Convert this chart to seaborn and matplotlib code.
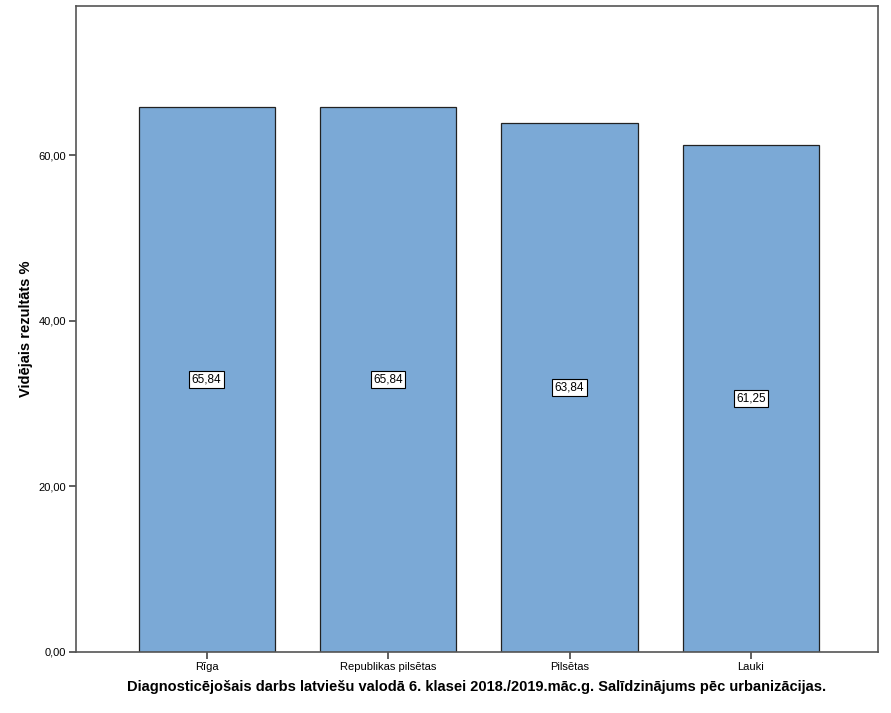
import matplotlib
matplotlib.use('Agg')
import matplotlib.pyplot as plt
import seaborn as sns
import pandas as pd
from matplotlib.ticker import FuncFormatter

# dati no attēla
categories = ['Rīga', 'Republikas pilsētas', 'Pilsētas', 'Lauki']
values = [65.84, 65.84, 63.84, 61.25]
yticks = [0, 20, 40, 60]

df = pd.DataFrame({'grupa': categories, 'rezultats': values})

sns.set_style('white')
plt.rcParams['font.family'] = ['Liberation Sans', 'DejaVu Sans']
plt.rcParams['text.color'] = 'black'
plt.rcParams['axes.labelcolor'] = 'black'
plt.rcParams['xtick.color'] = 'black'
plt.rcParams['ytick.color'] = 'black'

fig = plt.figure(figsize=(8.91, 7.13), dpi=100)
ax = fig.add_axes([0.0853, 0.0856, 0.9001, 0.906])

sns.barplot(data=df, x='grupa', y='rezultats', color='#7BA9D6', width=0.75,
            edgecolor='#222222', linewidth=0.9, saturation=1, ax=ax)

# vērtību etiķetes bāra vidū
for i, v in enumerate(values):
    ax.text(i, v / 2, f'{v:.2f}'.replace('.', ','), ha='center', va='center',
            fontsize=8.5, bbox=dict(boxstyle='square,pad=0.2', fc='white', ec='black', lw=0.8))

ax.set_xlim(-0.72, 3.70)
ax.set_ylim(0, 78)
ax.set_yticks(yticks)
ax.yaxis.set_major_formatter(FuncFormatter(lambda y, _: f'{y:.2f}'.replace('.', ',')))
ax.tick_params(axis='both', direction='out', length=5, width=1.2, color='#444444',
               labelsize=8, bottom=True, left=True, pad=2)
for s in ax.spines.values():
    s.set_color('#555555')
    s.set_linewidth(1.2)

ax.set_xlabel('Diagnosticējošais darbs latviešu valodā 6. klasei 2018./2019.māc.g. Salīdzinājums pēc urbanizācijas.',
              fontsize=10.5, fontweight='bold', labelpad=6)
ax.set_ylabel('Vidējais rezultāts %', fontsize=10.5, fontweight='bold', labelpad=4)

plt.savefig('out.png', dpi=100)
